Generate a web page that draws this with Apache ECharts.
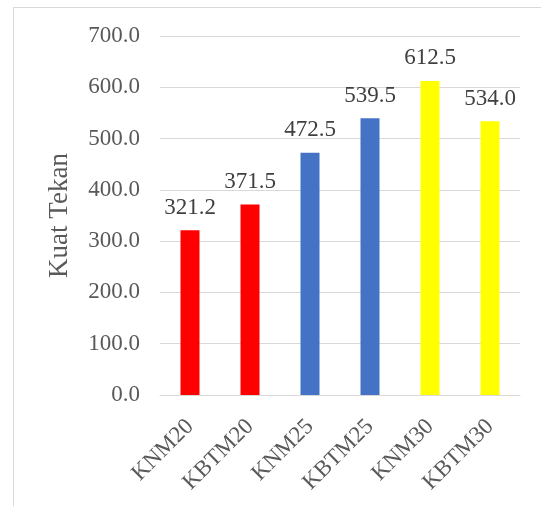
<!DOCTYPE html>
<html><head><meta charset="utf-8">
<script src="https://cdn.jsdelivr.net/npm/echarts@6/dist/echarts.min.js"></script>
<style>html,body{margin:0;padding:0;background:#fff}#c{width:541px;height:506px}</style>
</head><body><div id="c"></div>
<script>
const categories = ['KNM20','KBTM20','KNM25','KBTM25','KNM30','KBTM30'];
const values = [321.2, 371.5, 472.5, 539.5, 612.5, 534.0];
const barColors = ['#FF0000','#FF0000','#4472C4','#4472C4','#FFFF00','#FFFF00'];
const yTicks = [0,100,200,300,400,500,600,700];

const font = '"Liberation Serif","Times New Roman",serif';
const chart = echarts.init(document.getElementById('c'));
chart.setOption({
  animation:false,
  graphic:[
    {type:'line',shape:{x1:13,y1:7.5,x2:541,y2:7.5},style:{stroke:'#d9d9d9',lineWidth:1}},
    {type:'line',shape:{x1:13.5,y1:7,x2:13.5,y2:506},style:{stroke:'#d9d9d9',lineWidth:1}}
  ],
  grid:{left:160,right:21,top:36,bottom:111},
  xAxis:{type:'category',data:categories,
    axisLine:{lineStyle:{color:'#d9d9d9'}},axisTick:{show:false},
    axisLabel:{rotate:45,interval:0,color:'#595959',fontFamily:font,fontSize:23,margin:28}},
  yAxis:{type:'value',min:yTicks[0],max:yTicks[yTicks.length-1],interval:100,
    name:'Kuat Tekan',nameLocation:'middle',nameGap:87,
    nameTextStyle:{color:'#595959',fontFamily:font,fontSize:27},
    axisLine:{show:false},axisTick:{show:false},
    splitLine:{lineStyle:{color:'#d9d9d9'}},
    axisLabel:{formatter:v=>v.toFixed(1),color:'#595959',fontFamily:font,fontSize:23,margin:20}},
  series:[{type:'bar',barWidth:19,
    data:values.map((v,i)=>({value:v,itemStyle:{color:barColors[i]}})),
    label:{show:true,position:'top',distance:11,formatter:p=>p.value.toFixed(1),color:'#404040',fontFamily:font,fontSize:23}}]
});
</script></body></html>
